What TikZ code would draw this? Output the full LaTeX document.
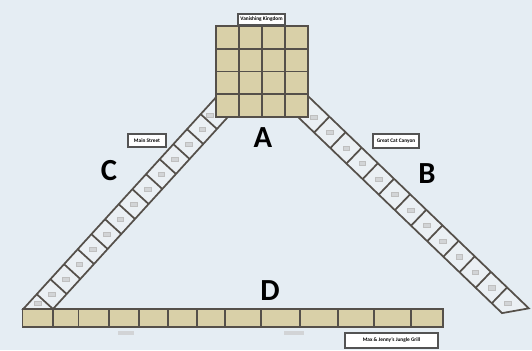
\documentclass[tikz,border=0pt]{standalone}
\usepackage{fontspec}
\setmainfont{Carlito}
\definecolor{bgc}{HTML}{E5EDF3}
\definecolor{tan}{HTML}{D9D0A8}
\definecolor{edge}{HTML}{55504A}
\definecolor{stripc}{HTML}{EBF0F4}
\definecolor{lblc}{HTML}{D2D4D6}
\begin{document}
\begin{tikzpicture}[x=0.75pt,y=-0.75pt,
  tanbox/.style={fill=tan,draw=edge,line width=1.3pt},
  stripline/.style={draw=edge,line width=1.3pt},
  tinylbl/.style={fill=lblc,draw=gray!50,line width=0.2pt,minimum width=5pt,minimum height=3.2pt,inner sep=0pt},
  namebox/.style={fill=white,draw=gray!65!black,line width=0.8pt,inner sep=0pt,font=\fontsize{4}{4.5}\selectfont\bfseries},
  bigletter/.style={font=\fontsize{23}{23}\selectfont\bfseries,text=black,inner sep=0pt}]
\fill[bgc] (0,0) rectangle (532,350);
\useasboundingbox (0,0) rectangle (532,350);

% left strip (C)
\begin{scope}[shift={(53,309)},x={(0.50475pt,0.55425pt)},y={(-0.55425pt,0.50475pt)}]
  \filldraw[fill=stripc,stripline] (-20,22) -- (0,0) -- (262,0) -- (270,22) -- cycle;
  \foreach \k in {0,...,12} \draw[stripline] (\k*20.3,0) -- (\k*20.3,22);
  \foreach \k in {0,...,11} \node[tinylbl] (cl\k) at (10.15+\k*20.3,11) {};
  \node[tinylbl] (clt) at (-6,15) {};
  \node[tinylbl] (cltop) at (249,15) {};
\end{scope}

% right strip (B)
\begin{scope}[shift={(298,117)},x={(0.54075pt,-0.51975pt)},y={(0.51975pt,0.54075pt)}]
  \filldraw[fill=stripc,stripline] (-10,0) -- (283,0) -- (299,22) -- (-10,22) -- cycle;
  \foreach \k in {1,...,12} \draw[stripline] (\k*22.4,0) -- (\k*22.4,22);
  \foreach \k in {0,...,12} \node[tinylbl] (bl\k) at (11.2+\k*22.4,11) {};
\end{scope}

% bottom bar (D)
\foreach \a/\b [count=\i] in {22.5/53,53/78.5,78.5/109,109/139,139/168,168/197,197/225,225/261,261/300,300/338,338/374,374/411,411/443}
  \draw[tanbox] (\a,309) rectangle (\b,327);
\node[tinylbl,minimum width=12pt,minimum height=2.5pt,draw=none] (dl1) at (126,333) {};
\node[tinylbl,minimum width=15pt,minimum height=2.5pt,draw=none] (dl2) at (294,333) {};

% top grid (A)
\foreach \i in {0,...,3}
  \foreach \j in {0,...,3}
    \draw[tanbox] (216+\i*23,26+\j*22.75) rectangle (239+\i*23,48.75+\j*22.75);

% name boxes
\node[namebox,minimum width=35.25pt,minimum height=8.25pt] (vk) at (261.5,19.5) {Vanishing Kingdom};
\node[namebox,minimum width=28.5pt,minimum height=9.75pt] (ms) at (147,140.5) {Main Street};
\node[namebox,minimum width=34.5pt,minimum height=10.5pt] (gc) at (396,141) {Great Cat Canyon};
\node[namebox,minimum width=69.75pt,minimum height=11.25pt] (mj) at (391.5,340.5) {Max \& Jenny's Jungle Grill};

% letters
\node[bigletter] (A) at (263,138) {A};
\node[bigletter] (B) at (427,174) {B};
\node[bigletter] (C) at (109,171) {C};
\node[bigletter] (D) at (270,291) {D};
\end{tikzpicture}
\end{document}
